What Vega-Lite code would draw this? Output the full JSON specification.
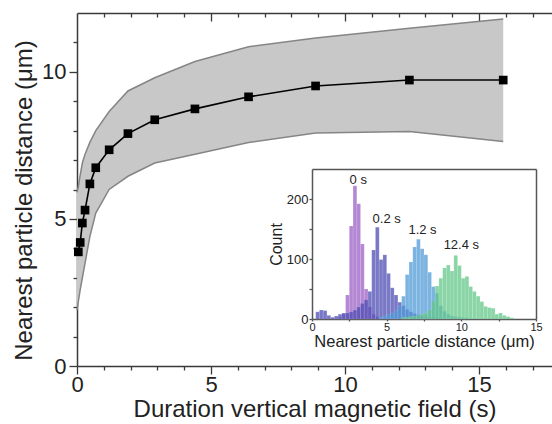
{
  "$schema": "https://vega.github.io/schema/vega-lite/v6.json",
  "width": 475,
  "height": 353,
  "autosize": {"type": "none"},
  "padding": {"left": 77, "top": 13, "right": 0, "bottom": 58},
  "background": "white",
  "config": {
    "view": {"stroke": null},
    "font": "Liberation Sans",
    "axis": {
      "grid": false,
      "domainColor": "#3a3a3a",
      "tickColor": "#3a3a3a",
      "domainWidth": 1.5,
      "tickWidth": 1.3,
      "labelColor": "#222222",
      "titleColor": "#222222",
      "titleFontWeight": "normal",
      "labelFont": "Liberation Sans",
      "titleFont": "Liberation Sans",
      "labelFlush": false,
      "labelOverlap": false,
      "labelBound": false
    }
  },
  "datasets": {
    "main": [
      {"t": 0, "lo": 1.9, "hi": 5.9, "d": null},
      {"t": 0.05, "lo": 2.2, "hi": 6.1, "d": 3.88},
      {"t": 0.12, "lo": 2.6, "hi": 6.5, "d": 4.2},
      {"t": 0.2, "lo": 3.0, "hi": 6.9, "d": 4.86},
      {"t": 0.3, "lo": 3.5, "hi": 7.2, "d": 5.3},
      {"t": 0.48, "lo": 4.4, "hi": 7.6, "d": 6.19},
      {"t": 0.7, "lo": 5.2, "hi": 8.0, "d": 6.74},
      {"t": 1.2, "lo": 6.0, "hi": 8.65, "d": 7.35},
      {"t": 1.9, "lo": 6.45, "hi": 9.35, "d": 7.9},
      {"t": 2.9, "lo": 6.9, "hi": 9.8, "d": 8.37},
      {"t": 4.4, "lo": 7.2, "hi": 10.35, "d": 8.74},
      {"t": 6.4, "lo": 7.6, "hi": 10.85, "d": 9.15},
      {"t": 8.9, "lo": 7.92, "hi": 11.15, "d": 9.52},
      {"t": 12.4, "lo": 7.97, "hi": 11.48, "d": 9.72},
      {"t": 15.9, "lo": 7.63, "hi": 11.8, "d": 9.72}
    ],
    "hist": [
      {"s": "0 s", "lo": 1.75, "hi": 2.0, "n": 3},
      {"s": "0 s", "lo": 2.0, "hi": 2.25, "n": 8},
      {"s": "0 s", "lo": 2.25, "hi": 2.5, "n": 40},
      {"s": "0 s", "lo": 2.5, "hi": 2.75, "n": 155},
      {"s": "0 s", "lo": 2.75, "hi": 3.0, "n": 222},
      {"s": "0 s", "lo": 3.0, "hi": 3.25, "n": 192},
      {"s": "0 s", "lo": 3.25, "hi": 3.5, "n": 125},
      {"s": "0 s", "lo": 3.5, "hi": 3.75, "n": 50},
      {"s": "0 s", "lo": 3.75, "hi": 4.0, "n": 20},
      {"s": "0 s", "lo": 4.0, "hi": 4.25, "n": 8},
      {"s": "0 s", "lo": 4.25, "hi": 4.5, "n": 4},
      {"s": "0.2 s", "lo": 0.25, "hi": 0.5, "n": 12},
      {"s": "0.2 s", "lo": 0.5, "hi": 0.75, "n": 15},
      {"s": "0.2 s", "lo": 0.75, "hi": 1.0, "n": 14},
      {"s": "0.2 s", "lo": 1.0, "hi": 1.25, "n": 6},
      {"s": "0.2 s", "lo": 1.25, "hi": 1.5, "n": 3},
      {"s": "0.2 s", "lo": 1.5, "hi": 1.75, "n": 5},
      {"s": "0.2 s", "lo": 1.75, "hi": 2.0, "n": 8},
      {"s": "0.2 s", "lo": 2.0, "hi": 2.25, "n": 10},
      {"s": "0.2 s", "lo": 2.25, "hi": 2.5, "n": 10},
      {"s": "0.2 s", "lo": 2.5, "hi": 2.75, "n": 12},
      {"s": "0.2 s", "lo": 2.75, "hi": 3.0, "n": 15},
      {"s": "0.2 s", "lo": 3.0, "hi": 3.25, "n": 20},
      {"s": "0.2 s", "lo": 3.25, "hi": 3.5, "n": 26},
      {"s": "0.2 s", "lo": 3.5, "hi": 3.75, "n": 32},
      {"s": "0.2 s", "lo": 3.75, "hi": 4.0, "n": 46},
      {"s": "0.2 s", "lo": 4.0, "hi": 4.25, "n": 115},
      {"s": "0.2 s", "lo": 4.25, "hi": 4.5, "n": 153},
      {"s": "0.2 s", "lo": 4.5, "hi": 4.75, "n": 99},
      {"s": "0.2 s", "lo": 4.75, "hi": 5.0, "n": 107},
      {"s": "0.2 s", "lo": 5.0, "hi": 5.25, "n": 76},
      {"s": "0.2 s", "lo": 5.25, "hi": 5.5, "n": 52},
      {"s": "0.2 s", "lo": 5.5, "hi": 5.75, "n": 40},
      {"s": "0.2 s", "lo": 5.75, "hi": 6.0, "n": 28},
      {"s": "0.2 s", "lo": 6.0, "hi": 6.25, "n": 22},
      {"s": "0.2 s", "lo": 6.25, "hi": 6.5, "n": 16},
      {"s": "0.2 s", "lo": 6.5, "hi": 6.75, "n": 12},
      {"s": "0.2 s", "lo": 6.75, "hi": 7.0, "n": 9},
      {"s": "0.2 s", "lo": 7.0, "hi": 7.25, "n": 7},
      {"s": "0.2 s", "lo": 7.25, "hi": 7.5, "n": 5},
      {"s": "0.2 s", "lo": 7.5, "hi": 7.75, "n": 4},
      {"s": "0.2 s", "lo": 7.75, "hi": 8.0, "n": 3},
      {"s": "0.2 s", "lo": 8.0, "hi": 8.25, "n": 2},
      {"s": "0.2 s", "lo": 8.25, "hi": 8.5, "n": 2},
      {"s": "1.2 s", "lo": 4.5, "hi": 4.75, "n": 3},
      {"s": "1.2 s", "lo": 4.75, "hi": 5.0, "n": 5},
      {"s": "1.2 s", "lo": 5.0, "hi": 5.25, "n": 8},
      {"s": "1.2 s", "lo": 5.25, "hi": 5.5, "n": 10},
      {"s": "1.2 s", "lo": 5.5, "hi": 5.75, "n": 14},
      {"s": "1.2 s", "lo": 5.75, "hi": 6.0, "n": 22},
      {"s": "1.2 s", "lo": 6.0, "hi": 6.25, "n": 38},
      {"s": "1.2 s", "lo": 6.25, "hi": 6.5, "n": 74},
      {"s": "1.2 s", "lo": 6.5, "hi": 6.75, "n": 95},
      {"s": "1.2 s", "lo": 6.75, "hi": 7.0, "n": 120},
      {"s": "1.2 s", "lo": 7.0, "hi": 7.25, "n": 133},
      {"s": "1.2 s", "lo": 7.25, "hi": 7.5, "n": 117},
      {"s": "1.2 s", "lo": 7.5, "hi": 7.75, "n": 107},
      {"s": "1.2 s", "lo": 7.75, "hi": 8.0, "n": 78},
      {"s": "1.2 s", "lo": 8.0, "hi": 8.25, "n": 54},
      {"s": "1.2 s", "lo": 8.25, "hi": 8.5, "n": 43},
      {"s": "1.2 s", "lo": 8.5, "hi": 8.75, "n": 22},
      {"s": "1.2 s", "lo": 8.75, "hi": 9.0, "n": 13},
      {"s": "1.2 s", "lo": 9.0, "hi": 9.25, "n": 8},
      {"s": "1.2 s", "lo": 9.25, "hi": 9.5, "n": 5},
      {"s": "1.2 s", "lo": 9.5, "hi": 9.75, "n": 4},
      {"s": "1.2 s", "lo": 9.75, "hi": 10.0, "n": 3},
      {"s": "1.2 s", "lo": 10.0, "hi": 10.25, "n": 2},
      {"s": "1.2 s", "lo": 10.25, "hi": 10.5, "n": 2},
      {"s": "12.4 s", "lo": 6.0, "hi": 6.25, "n": 3},
      {"s": "12.4 s", "lo": 6.25, "hi": 6.5, "n": 3},
      {"s": "12.4 s", "lo": 6.5, "hi": 6.75, "n": 4},
      {"s": "12.4 s", "lo": 6.75, "hi": 7.0, "n": 5},
      {"s": "12.4 s", "lo": 7.0, "hi": 7.25, "n": 6},
      {"s": "12.4 s", "lo": 7.25, "hi": 7.5, "n": 8},
      {"s": "12.4 s", "lo": 7.5, "hi": 7.75, "n": 10},
      {"s": "12.4 s", "lo": 7.75, "hi": 8.0, "n": 15},
      {"s": "12.4 s", "lo": 8.0, "hi": 8.25, "n": 30},
      {"s": "12.4 s", "lo": 8.25, "hi": 8.5, "n": 55},
      {"s": "12.4 s", "lo": 8.5, "hi": 8.75, "n": 68},
      {"s": "12.4 s", "lo": 8.75, "hi": 9.0, "n": 85},
      {"s": "12.4 s", "lo": 9.0, "hi": 9.25, "n": 90},
      {"s": "12.4 s", "lo": 9.25, "hi": 9.5, "n": 80},
      {"s": "12.4 s", "lo": 9.5, "hi": 9.75, "n": 106},
      {"s": "12.4 s", "lo": 9.75, "hi": 10.0, "n": 89},
      {"s": "12.4 s", "lo": 10.0, "hi": 10.25, "n": 68},
      {"s": "12.4 s", "lo": 10.25, "hi": 10.5, "n": 71},
      {"s": "12.4 s", "lo": 10.5, "hi": 10.75, "n": 54},
      {"s": "12.4 s", "lo": 10.75, "hi": 11.0, "n": 46},
      {"s": "12.4 s", "lo": 11.0, "hi": 11.25, "n": 38},
      {"s": "12.4 s", "lo": 11.25, "hi": 11.5, "n": 29},
      {"s": "12.4 s", "lo": 11.5, "hi": 11.75, "n": 21},
      {"s": "12.4 s", "lo": 11.75, "hi": 12.0, "n": 19},
      {"s": "12.4 s", "lo": 12.0, "hi": 12.25, "n": 18},
      {"s": "12.4 s", "lo": 12.25, "hi": 12.5, "n": 8},
      {"s": "12.4 s", "lo": 12.5, "hi": 12.75, "n": 10},
      {"s": "12.4 s", "lo": 12.75, "hi": 13.0, "n": 6},
      {"s": "12.4 s", "lo": 13.0, "hi": 13.25, "n": 4},
      {"s": "12.4 s", "lo": 13.25, "hi": 13.5, "n": 2}
    ],
    "labels": [
      {"s": "0 s", "x": 3.1, "n": 232},
      {"s": "0.2 s", "x": 5.0, "n": 167},
      {"s": "1.2 s", "x": 7.4, "n": 148},
      {"s": "12.4 s", "x": 10.0, "n": 124}
    ]
  },
  "layer": [
    {
      "data": {"name": "main"},
      "layer": [
        {
          "mark": {"type": "area", "color": "#c8c8c8", "opacity": 1},
          "encoding": {
            "x": {"field": "t", "type": "quantitative",
              "scale": {"domain": [0, 17.72], "nice": false, "zero": false},
              "axis": {"orient": "bottom", "values": [0, 5, 10, 15], "tickSize": 8, "labelFontSize": 22, "labelPadding": 0,
                "title": "Duration vertical magnetic field (s)", "titleFontSize": 24, "titlePadding": 2}},
            "y": {"field": "lo", "type": "quantitative",
              "scale": {"domain": [0, 12], "nice": false, "zero": false},
              "axis": {"orient": "left", "values": [0, 5, 10], "tickSize": 8, "labelFontSize": 22, "labelPadding": 3,
                "title": "Nearest particle distance (μm)", "titleFontSize": 24, "titlePadding": 5, "titleY": 187}},
            "y2": {"field": "hi"}
          }
        },
        {
          "mark": {"type": "line", "color": "#858585", "strokeWidth": 1.5},
          "encoding": {
            "x": {"field": "t", "type": "quantitative",
              "axis": {"orient": "bottom", "values": [1, 2, 3, 4, 6, 7, 8, 9, 11, 12, 13, 14, 16, 17], "tickSize": 4, "labels": false, "domain": false, "title": null}},
            "y": {"field": "hi", "type": "quantitative",
              "axis": {"orient": "left", "values": [1, 2, 3, 4, 6, 7, 8, 9, 11], "tickSize": 4, "labels": false, "domain": false, "title": null}}
          }
        },
        {
          "mark": {"type": "line", "color": "#858585", "strokeWidth": 1.5},
          "encoding": {
            "x": {"field": "t", "type": "quantitative",
              "axis": {"orient": "top", "values": [5, 10, 15], "tickSize": -8, "labels": false, "title": null}},
            "y": {"field": "lo", "type": "quantitative", "axis": null}
          }
        },
        {
          "mark": {"type": "line", "color": "#000000", "strokeWidth": 1.6},
          "encoding": {
            "x": {"field": "t", "type": "quantitative",
              "axis": {"orient": "top", "values": [1, 2, 3, 4, 6, 7, 8, 9, 11, 12, 13, 14, 16, 17], "tickSize": -4, "labels": false, "domain": false, "title": null}},
            "y": {"field": "d", "type": "quantitative", "axis": null}
          }
        },
        {
          "mark": {"type": "point", "shape": "square", "filled": true, "color": "#000000", "size": 75, "opacity": 1},
          "encoding": {
            "x": {"field": "t", "type": "quantitative", "axis": null},
            "y": {"field": "d", "type": "quantitative", "axis": null}
          }
        }
      ],
      "resolve": {"axis": {"x": "independent", "y": "independent"}}
    },
    {
      "layer": [
        {
          "data": {"name": "hist"},
          "mark": {"type": "bar", "opacity": 0.75, "stroke": "#ffffff", "strokeOpacity": 0.25, "strokeWidth": 0.5},
          "encoding": {
            "x": {"field": "lo", "type": "quantitative",
              "scale": {"domain": [0, 15], "range": [235, 459], "nice": false, "zero": false},
              "axis": {"orient": "bottom", "offset": -47, "values": [0, 2.5, 5, 7.5, 10, 12.5, 15],
                "labelExpr": "datum.value % 5 === 0 ? datum.label : ''", "tickSize": 2, "labelFontSize": 11, "labelPadding": 0,
                "domainColor": "#555555", "tickColor": "#555555",
                "title": "Nearest particle distance (μm)", "titleFontSize": 16.5, "titlePadding": 1}},
            "x2": {"field": "hi"},
            "y": {"field": "n", "type": "quantitative", "stack": null,
              "scale": {"domain": [0, 250], "range": [306, 156], "nice": false},
              "axis": {"orient": "left", "offset": -235, "values": [0, 50, 100, 150, 200],
                "labelExpr": "datum.value % 100 === 0 ? datum.label : ''", "tickSize": 3, "labelFontSize": 13, "labelPadding": 1,
                "domainColor": "#555555", "tickColor": "#555555",
                "title": "Count", "titleFontSize": 16, "titlePadding": 2}},
            "y2": {"datum": 0},
            "color": {"field": "s", "type": "nominal", "legend": null,
              "scale": {"domain": ["0 s", "0.2 s", "1.2 s", "12.4 s"], "range": ["#9c5fc6", "#4c4cb4", "#4f9ad8", "#62c888"]}}
          }
        },
        {
          "data": {"name": "labels"},
          "mark": {"type": "text", "fontSize": 13, "color": "#222222", "font": "Liberation Sans"},
          "encoding": {
            "x": {"field": "x", "type": "quantitative",
              "axis": {"orient": "top", "offset": -156, "ticks": false, "labels": false, "title": null, "domainColor": "#555555"}},
            "y": {"field": "n", "type": "quantitative",
              "axis": {"orient": "right", "offset": -16, "ticks": false, "labels": false, "title": null, "domainColor": "#555555"}},
            "text": {"field": "s"}
          }
        }
      ],
      "resolve": {"axis": {"x": "independent", "y": "independent"}}
    }
  ],
  "resolve": {"scale": {"x": "independent", "y": "independent"}, "axis": {"x": "independent", "y": "independent"}}
}
